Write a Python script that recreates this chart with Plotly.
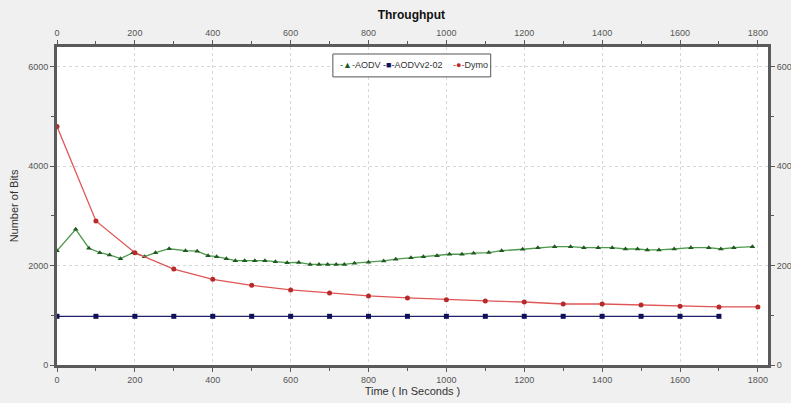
import plotly.graph_objects as go

# ---- data ----
aodv_x = [0, 48, 82, 110, 135, 163, 195, 225, 253, 288, 330, 360, 388, 410, 435, 458, 482, 508,
          534, 561, 591, 621, 650, 673, 695, 717, 738, 764, 800, 839, 870, 909, 941, 976, 1008,
          1040, 1070, 1109, 1142, 1196, 1235, 1278, 1319, 1353, 1390, 1426, 1460, 1491, 1516,
          1546, 1585, 1628, 1674, 1705, 1738, 1786]
aodv_y = [2300, 2730, 2350, 2260, 2215, 2140, 2260, 2180, 2260, 2340, 2300, 2290, 2200, 2180,
          2140, 2100, 2100, 2100, 2100, 2080, 2060, 2065, 2025, 2025, 2025, 2025, 2025, 2050,
          2070, 2095, 2130, 2160, 2180, 2200, 2229, 2229, 2250, 2262, 2300, 2330, 2362, 2382,
          2382, 2362, 2362, 2362, 2335, 2335, 2315, 2315, 2335, 2362, 2362, 2335, 2362, 2382]

aodvv2_x = [0, 100, 200, 300, 400, 500, 600, 700, 800, 900, 1000, 1100, 1200, 1300, 1400,
            1500, 1600, 1700]
aodvv2_y = [980] * 18

dymo_x = [0, 100, 200, 300, 400, 500, 600, 700, 800, 900, 1000, 1100, 1200, 1300, 1400, 1500,
          1600, 1700, 1800]
dymo_y = [4800, 2900, 2260, 1930, 1725, 1604, 1510, 1450, 1390, 1349, 1315, 1289, 1268, 1228,
          1228, 1208, 1181, 1168, 1168]

x_ticks = [0, 200, 400, 600, 800, 1000, 1200, 1400, 1600, 1800]
y_ticks = [0, 2000, 4000, 6000]

series_names = ["AODV", "AODVv2-02", "Dymo"]
line_colors = ["#4f9a4f", "#20206e", "#e05555"]
marker_colors = ["#1f5a1f", "#10105a", "#b82a2a"]
marker_symbols = ["triangle-up", "square", "circle"]
legend_glyphs = ["▲", "■", "●"]

XR = [0, 1826]
YR = [0, 6400]

fig = go.Figure()
for name, xs, ys, lc, mc, ms in zip(series_names, [aodv_x, aodvv2_x, dymo_x],
                                    [aodv_y, aodvv2_y, dymo_y], line_colors,
                                    marker_colors, marker_symbols):
    fig.add_trace(go.Scatter(x=xs, y=ys, name=name, mode="lines+markers",
                             line=dict(color=lc, width=1.3),
                             marker=dict(symbol=ms, size=5, color=mc)))
# dummy trace to activate top/right axes
fig.add_trace(go.Scatter(x=[None], y=[None], xaxis="x2", yaxis="y2", showlegend=False))

font_fam = "Liberation Sans, Arial"
axis_common = dict(showline=True, linecolor="#5a5a5a", linewidth=3, mirror=False,
                   ticks="outside", ticklen=4, tickcolor="#5a5a5a", tickwidth=1,
                   tickfont=dict(family=font_fam, size=9, color="#555"),
                   zeroline=False, automargin=False)
minor_x = dict(ticks="outside", ticklen=3, tickcolor="#5a5a5a", dtick=100, tick0=0,
               showgrid=False)
minor_y = dict(ticks="outside", ticklen=3, tickcolor="#5a5a5a", dtick=1000, tick0=0,
               showgrid=False)

fig.update_layout(
    width=791, height=403,
    margin=dict(l=57, r=23, t=47, b=38),
    paper_bgcolor="#f0f0f0", plot_bgcolor="#ffffff",
    title=dict(text="<b>Throughput</b>", x=0.52, xanchor="center", y=0.963, yanchor="middle",
               font=dict(family=font_fam, size=12, color="#111")),
    xaxis=dict(range=XR, tickvals=x_ticks, showgrid=True, gridcolor="#d8d8d8", griddash="dot",
               minor=minor_x,
               title=dict(text="Time ( In Seconds )", standoff=2,
                          font=dict(family=font_fam, size=11, color="#333")),
               **axis_common),
    xaxis2=dict(range=XR, tickvals=x_ticks, overlaying="x", side="top", anchor="y",
                showgrid=False, minor=minor_x, **axis_common),
    yaxis=dict(range=YR, tickvals=y_ticks, showgrid=True, gridcolor="#d8d8d8", griddash="dot",
               minor=minor_y,
               title=dict(text="Number of Bits", standoff=8,
                          font=dict(family=font_fam, size=11, color="#333")),
               **axis_common),
    yaxis2=dict(range=YR, tickvals=y_ticks, overlaying="y", side="right", anchor="x",
                showgrid=False, minor=minor_y, **axis_common),
    showlegend=False,
)

# compact legend box (like the original Java chart legend)
fig.add_shape(type="rect", xref="paper", yref="paper", x0=0.388, x1=0.610, y0=0.906, y1=0.978,
              line=dict(color="#555", width=1), fillcolor="#ffffff", layer="above")
legend_x = [0.395, 0.4557, 0.554]
for lx, name, mc, g in zip(legend_x, series_names, marker_colors, legend_glyphs):
    fig.add_annotation(xref="paper", yref="paper", x=lx, y=0.943, xanchor="left",
                       yanchor="middle", showarrow=False,
                       text=f"<span style='color:{mc}'>-{g}-</span>{name}",
                       font=dict(family=font_fam, size=9, color="#333"))

fig.write_html("out.html",
               config={"displayModeBar": False},
               post_script="document.body.style.margin='0px';"
                           "document.body.style.overflow='hidden';")
